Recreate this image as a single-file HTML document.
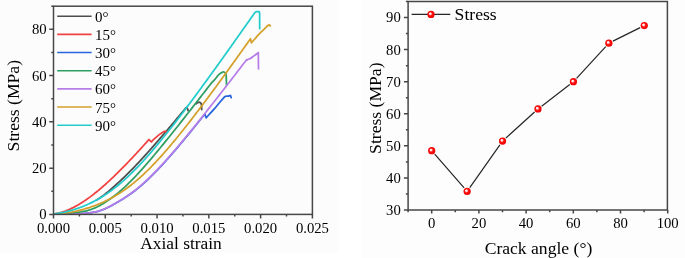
<!DOCTYPE html>
<html><head><meta charset="utf-8"><title>Stress charts</title>
<style>html,body{margin:0;padding:0;background:#fff;}body{width:685px;height:258px;overflow:hidden;}svg{display:block;}</style>
</head><body>
<svg width="685" height="258" viewBox="0 0 685 258" font-family='"Liberation Serif", serif'>
<defs><radialGradient id="ball" cx="0.5" cy="0.5" r="0.5" fx="0.35" fy="0.35"><stop offset="0" stop-color="#ffffff"/><stop offset="0.26" stop-color="#ffdcdc"/><stop offset="0.5" stop-color="#ff1a1a"/><stop offset="0.85" stop-color="#f50000"/><stop offset="1" stop-color="#e60000"/></radialGradient><clipPath id="lclip"><rect x="53.5" y="4.2" width="258.9" height="210.2"/></clipPath></defs>
<rect x="0" y="0" width="685" height="258" fill="#ffffff"/>
<rect x="0" y="0" width="338" height="252.8" fill="#fcfcfc"/>
<rect x="361.3" y="0" width="323.7" height="258" fill="#fdfdfd"/>
<g fill="none" stroke-width="1.75" stroke-linejoin="round" stroke-linecap="round" clip-path="url(#lclip)">
<path d="M96.50,200.09 L97.50,199.48 L98.50,198.84 L99.50,198.18 L100.50,197.51 L101.50,196.81 L102.50,196.09 L103.50,195.35 L104.50,194.59 L105.50,193.81 L106.50,193.01 L107.50,192.19 L108.50,191.35 L109.50,190.50 L110.50,189.64 L111.50,188.76 L112.50,187.87 L113.50,186.97 L114.50,186.07 L115.50,185.16 L116.50,184.25 L117.50,183.34 L118.50,182.43 L119.50,181.53 L120.50,180.61 L121.50,179.68 L122.50,178.74 L123.50,177.79 L124.50,176.83 L125.50,175.87 L126.50,174.89 L127.50,173.90 L128.50,172.91 L129.50,171.91 L130.50,170.89 L131.50,169.88 L132.50,168.85 L133.50,167.82 L134.50,166.78 L135.50,165.73 L136.50,164.68 L137.50,163.62 L138.50,162.55 L139.50,161.48 L140.50,160.40 L141.50,159.32 L142.50,158.23 L143.50,157.14 L144.50,156.04 L145.50,154.94 L146.50,153.83 L147.50,152.72 L148.50,151.60 L149.50,150.48 L150.50,149.36 L151.50,148.23 L152.50,147.10 L153.50,145.97 L154.50,144.83 L155.50,143.69 L156.50,142.54 L157.50,141.40 L158.50,140.25 L159.50,139.09 L160.50,137.94 L161.50,136.78 L162.50,135.62 L163.50,134.45 L164.50,133.29 L165.50,132.12 L166.50,130.95 L167.50,129.77 L168.50,128.60 L169.50,127.42 L170.50,126.24 L171.50,125.06 L172.50,123.88 L173.50,122.69 L174.50,121.51 L175.50,120.32 L176.50,119.13 L177.50,117.93 L178.50,116.74 L179.50,115.55 L180.50,114.35 L181.50,113.15 L182.50,111.95 L183.50,110.75 L184.50,109.55 L185.50,108.35 L185.80,107.98 L186.60,107.50 L187.40,108.50 L188.10,110.60 M195.80,103.90 L197.50,102.80 L199.00,102.20 L200.30,102.50 L201.20,103.60 L201.60,106.00 L201.70,109.60" stroke="#4d4d4d"/>
<path d="M53.50,213.90 L54.50,213.78 L55.50,213.64 L56.50,213.47 L57.50,213.28 L58.50,213.06 L59.50,212.82 L60.50,212.56 L61.50,212.28 L62.50,211.98 L63.50,211.66 L64.50,211.32 L65.50,210.96 L66.50,210.57 L67.50,210.18 L68.50,209.76 L69.50,209.32 L70.50,208.87 L71.50,208.40 L72.50,207.91 L73.50,207.41 L74.50,206.89 L75.50,206.36 L76.50,205.81 L77.50,205.24 L78.50,204.66 L79.50,204.07 L80.50,203.46 L81.50,202.83 L82.50,202.20 L83.50,201.54 L84.50,200.88 L85.50,200.20 L86.50,199.51 L87.50,198.81 L88.50,198.09 L89.50,197.37 L90.50,196.63 L91.50,195.88 L92.50,195.11 L93.50,194.34 L94.50,193.55 L95.50,192.76 L96.50,191.95 L97.50,191.14 L98.50,190.31 L99.50,189.47 L100.50,188.63 L101.50,187.77 L102.50,186.90 L103.50,186.03 L104.50,185.15 L105.50,184.25 L106.50,183.35 L107.50,182.44 L108.50,181.53 L109.50,180.60 L110.50,179.67 L111.50,178.73 L112.50,177.78 L113.50,176.83 L114.50,175.86 L115.50,174.90 L116.50,173.92 L117.50,172.94 L118.50,171.95 L119.50,170.96 L120.50,169.96 L121.50,168.95 L122.50,167.94 L123.50,166.92 L124.50,165.90 L125.50,164.87 L126.50,163.84 L127.50,162.80 L128.50,161.76 L129.50,160.71 L130.50,159.66 L131.50,158.60 L132.50,157.54 L133.50,156.48 L134.50,155.41 L135.50,154.34 L136.50,153.26 L137.50,152.18 L138.50,151.09 L139.50,150.01 L140.50,148.92 L141.50,147.82 L142.50,146.72 L143.50,145.62 L144.50,144.52 L145.50,143.41 L146.50,142.30 L147.50,141.19 L148.50,140.07 L149.00,139.51 L151.40,141.80 M151.40,141.80 C151.83,141.37 153.13,140.02 154.00,139.20 C154.87,138.38 155.68,137.70 156.60,136.90 C157.52,136.10 158.53,135.15 159.50,134.40 C160.47,133.65 161.58,132.90 162.40,132.40 C163.22,131.90 163.83,131.57 164.40,131.40 C164.97,131.23 165.43,131.23 165.80,131.40 C166.17,131.57 166.47,132.23 166.60,132.40" stroke="#f04242"/>
<path d="M53.85,213.90 L54.85,214.06 L55.85,214.19 L56.85,214.31 L57.85,214.42 L58.85,214.51 L59.85,214.58 L60.85,214.64 L61.85,214.68 L62.85,214.72 L63.85,214.74 L64.85,214.74 L65.85,214.74 L66.85,214.72 L67.85,214.70 L68.85,214.66 L69.85,214.62 L70.85,214.57 L71.85,214.51 L72.85,214.44 L73.85,214.37 L74.85,214.29 L75.85,214.21 L76.85,214.12 L77.85,214.03 L78.85,213.94 L79.85,213.85 L80.85,213.75 L81.85,213.66 L82.85,213.56 L83.85,213.46 L84.85,213.37 L85.85,213.26 L86.85,213.16 L87.85,213.05 L88.85,212.94 L89.85,212.82 L90.85,212.69 L91.85,212.54 L92.85,212.39 L93.85,212.22 L94.85,212.03 L95.85,211.82 L96.85,211.59 L97.85,211.34 L98.85,211.06 L99.85,210.76 L100.85,210.44 L101.85,210.09 L102.85,209.71 L103.85,209.31 L104.85,208.89 L105.85,208.44 L106.85,207.98 L107.85,207.50 L108.85,207.00 L109.85,206.48 L110.85,205.96 L111.85,205.42 L112.85,204.88 L113.85,204.32 L114.85,203.76 L115.85,203.19 L116.85,202.61 L117.85,202.03 L118.85,201.44 L119.85,200.85 L120.85,200.24 L121.85,199.63 L122.85,199.01 L123.85,198.39 L124.85,197.75 L125.85,197.10 L126.85,196.45 L127.85,195.78 L128.85,195.09 L129.85,194.40 L130.85,193.69 L131.85,192.97 L132.85,192.24 L133.85,191.49 L134.85,190.73 L135.85,189.95 L136.85,189.16 L137.85,188.36 L138.85,187.54 L139.85,186.70 L140.85,185.86 L141.85,185.00 L142.85,184.12 L143.85,183.23 L144.85,182.33 L145.85,181.42 L146.85,180.49 L147.85,179.55 L148.85,178.60 L149.85,177.64 L150.85,176.67 L151.85,175.68 L152.85,174.69 L153.85,173.68 L154.85,172.67 L155.85,171.64 L156.85,170.60 L157.85,169.56 L158.85,168.50 L159.85,167.44 L160.85,166.37 L161.85,165.29 L162.85,164.20 L163.85,163.11 L164.85,162.00 L165.85,160.89 L166.85,159.78 L167.85,158.65 L168.85,157.52 L169.85,156.39 L170.85,155.24 L171.85,154.09 L172.85,152.94 L173.85,151.78 L174.85,150.62 L175.85,149.45 L176.85,148.27 L177.85,147.09 L178.85,145.91 L179.85,144.72 L180.85,143.53 L181.85,142.33 L182.85,141.13 L183.85,139.93 L184.85,138.72 L185.85,137.51 L186.85,136.29 L187.85,135.08 L188.85,133.86 L189.85,132.63 L190.85,131.40 L191.85,130.17 L192.85,128.94 L193.85,127.70 L194.85,126.47 L195.85,125.23 L196.85,123.98 L197.85,122.74 L198.85,121.49 L199.85,120.24 L200.85,118.99 L201.85,117.73 L202.85,116.47 L203.85,115.22 L204.85,113.96 L205.10,115.10 L206.10,117.80 M206.10,117.80 C206.72,117.13 208.55,115.15 209.80,113.80 C211.05,112.45 212.40,111.05 213.60,109.70 C214.80,108.35 215.87,107.07 217.00,105.70 C218.13,104.33 219.40,102.68 220.40,101.50 C221.40,100.32 222.22,99.42 223.00,98.60 C223.78,97.78 224.42,97.00 225.10,96.60 C225.78,96.20 226.53,96.28 227.10,96.20 C227.67,96.12 227.93,96.22 228.50,96.10 C229.07,95.98 230.17,95.60 230.50,95.50 M230.50,95.50 L231.20,97.60" stroke="#2864dc"/>
<path d="M53.50,213.90 L54.50,213.94 L55.50,213.98 L56.50,214.00 L57.50,214.00 L58.50,214.00 L59.50,213.99 L60.50,213.97 L61.50,213.93 L62.50,213.89 L63.50,213.84 L64.50,213.78 L65.50,213.72 L66.50,213.65 L67.50,213.57 L68.50,213.48 L69.50,213.39 L70.50,213.29 L71.50,213.19 L72.50,213.08 L73.50,212.97 L74.50,212.85 L75.50,212.72 L76.50,212.59 L77.50,212.46 L78.50,212.32 L79.50,212.17 L80.50,212.01 L81.50,211.84 L82.50,211.66 L83.50,211.46 L84.50,211.26 L85.50,211.03 L86.50,210.79 L87.50,210.53 L88.50,210.25 L89.50,209.95 L90.50,209.63 L91.50,209.28 L92.50,208.91 L93.50,208.52 L94.50,208.10 L95.50,207.67 L96.50,207.20 L97.50,206.72 L98.50,206.21 L99.50,205.68 L100.50,205.14 L101.50,204.57 L102.50,203.99 L103.50,203.38 L104.50,202.77 L105.50,202.13 L106.50,201.48 L107.50,200.82 L108.50,200.14 L109.50,199.45 L110.50,198.74 L111.50,198.02 L112.50,197.29 L113.50,196.53 L114.50,195.77 L115.50,194.99 L116.50,194.19 L117.50,193.38 L118.50,192.56 L119.50,191.72 L120.50,190.86 L121.50,189.99 L122.50,189.10 L123.50,188.20 L124.50,187.28 L125.50,186.35 L126.50,185.41 L127.50,184.45 L128.50,183.48 L129.50,182.49 L130.50,181.49 L131.50,180.48 L132.50,179.46 L133.50,178.43 L134.50,177.38 L135.50,176.33 L136.50,175.26 L137.50,174.19 L138.50,173.10 L139.50,172.01 L140.50,170.91 L141.50,169.80 L142.50,168.68 L143.50,167.56 L144.50,166.42 L145.50,165.28 L146.50,164.14 L147.50,162.99 L148.50,161.83 L149.50,160.66 L150.50,159.49 L151.50,158.32 L152.50,157.14 L153.50,155.95 L154.50,154.76 L155.50,153.56 L156.50,152.37 L157.50,151.16 L158.50,149.95 L159.50,148.74 L160.50,147.53 L161.50,146.31 L162.50,145.09 L163.50,143.86 L164.50,142.64 L165.50,141.41 L166.50,140.17 L167.50,138.94 L168.50,137.70 L169.50,136.46 L170.50,135.21 L171.50,133.97 L172.50,132.72 L173.50,131.47 L174.50,130.21 L175.50,128.96 L176.50,127.70 L177.50,126.44 L178.50,125.18 L179.50,123.92 L180.50,122.66 L181.50,121.39 L182.50,120.12 L183.50,118.86 L184.50,117.59 L185.50,116.31 L186.50,115.04 L187.50,113.77 L188.50,112.49 L189.50,111.22 L190.50,109.94 L191.50,108.66 L192.50,107.38 L193.50,106.10 L194.50,104.82 L195.50,103.54 L196.50,102.25 L197.50,100.97 L198.50,99.68 L199.50,98.39 L200.50,97.11 L201.50,95.82 L202.50,94.53 L203.50,93.24 L204.50,91.95 L205.50,90.66 L206.50,89.36 L207.50,88.07 L208.50,86.78 L209.50,85.48 L210.50,84.19 L211.50,82.89 M211.50,82.90 C212.03,82.35 213.78,80.63 214.70,79.60 C215.62,78.57 216.23,77.60 217.00,76.70 C217.77,75.80 218.53,74.88 219.30,74.20 C220.07,73.52 220.82,72.97 221.60,72.60 C222.38,72.23 223.37,71.93 224.00,72.00 C224.63,72.07 225.03,72.45 225.40,73.00 C225.77,73.55 226.07,74.92 226.20,75.30 M226.20,75.30 L226.50,85.00" stroke="#2e9e62"/>
<path d="M53.50,213.90 L54.50,214.06 L55.50,214.19 L56.50,214.31 L57.50,214.42 L58.50,214.51 L59.50,214.58 L60.50,214.64 L61.50,214.68 L62.50,214.72 L63.50,214.74 L64.50,214.74 L65.50,214.74 L66.50,214.72 L67.50,214.70 L68.50,214.66 L69.50,214.62 L70.50,214.57 L71.50,214.51 L72.50,214.44 L73.50,214.37 L74.50,214.29 L75.50,214.21 L76.50,214.12 L77.50,214.03 L78.50,213.94 L79.50,213.85 L80.50,213.75 L81.50,213.66 L82.50,213.56 L83.50,213.46 L84.50,213.37 L85.50,213.26 L86.50,213.16 L87.50,213.05 L88.50,212.94 L89.50,212.82 L90.50,212.69 L91.50,212.54 L92.50,212.39 L93.50,212.22 L94.50,212.03 L95.50,211.82 L96.50,211.59 L97.50,211.34 L98.50,211.06 L99.50,210.76 L100.50,210.44 L101.50,210.09 L102.50,209.71 L103.50,209.31 L104.50,208.89 L105.50,208.44 L106.50,207.98 L107.50,207.50 L108.50,207.00 L109.50,206.48 L110.50,205.96 L111.50,205.42 L112.50,204.88 L113.50,204.32 L114.50,203.76 L115.50,203.19 L116.50,202.61 L117.50,202.03 L118.50,201.44 L119.50,200.85 L120.50,200.24 L121.50,199.63 L122.50,199.01 L123.50,198.39 L124.50,197.75 L125.50,197.10 L126.50,196.45 L127.50,195.78 L128.50,195.09 L129.50,194.40 L130.50,193.69 L131.50,192.97 L132.50,192.24 L133.50,191.49 L134.50,190.73 L135.50,189.95 L136.50,189.16 L137.50,188.36 L138.50,187.54 L139.50,186.70 L140.50,185.86 L141.50,185.00 L142.50,184.12 L143.50,183.23 L144.50,182.33 L145.50,181.42 L146.50,180.49 L147.50,179.55 L148.50,178.60 L149.50,177.64 L150.50,176.67 L151.50,175.68 L152.50,174.69 L153.50,173.68 L154.50,172.67 L155.50,171.64 L156.50,170.60 L157.50,169.56 L158.50,168.50 L159.50,167.44 L160.50,166.37 L161.50,165.29 L162.50,164.20 L163.50,163.11 L164.50,162.00 L165.50,160.89 L166.50,159.78 L167.50,158.65 L168.50,157.52 L169.50,156.39 L170.50,155.24 L171.50,154.09 L172.50,152.94 L173.50,151.78 L174.50,150.62 L175.50,149.45 L176.50,148.27 L177.50,147.09 L178.50,145.91 L179.50,144.72 L180.50,143.53 L181.50,142.33 L182.50,141.13 L183.50,139.93 L184.50,138.72 L185.50,137.51 L186.50,136.29 L187.50,135.08 L188.50,133.86 L189.50,132.63 L190.50,131.40 L191.50,130.17 L192.50,128.94 L193.50,127.70 L194.50,126.47 L195.50,125.23 L196.50,123.98 L197.50,122.74 L198.50,121.49 L199.50,120.24 L200.50,118.99 L201.50,117.73 L202.50,116.47 L203.50,115.22 L204.50,113.96 L205.50,112.69 L206.50,111.43 L207.50,110.16 L208.50,108.90 L209.50,107.63 L210.50,106.36 L211.50,105.08 L212.50,103.81 L213.50,102.54 L214.50,101.26 L215.50,99.98 L216.50,98.70 L217.50,97.42 L218.50,96.14 L219.50,94.86 L220.50,93.57 L221.50,92.29 L222.50,91.00 L223.50,89.71 L224.50,88.42 L225.50,87.13 L226.50,85.84 L227.50,84.55 L228.50,83.26 L229.50,81.97 L230.50,80.67 L231.50,79.38 L232.50,78.08 L233.50,76.78 L234.50,75.49 L235.50,74.19 L236.50,72.89 L237.50,71.59 L238.50,70.29 L239.50,68.98 L240.50,67.68 L241.50,66.38 L242.50,65.07 L243.50,63.77 L244.50,62.46 L245.50,61.16 L246.50,59.85 L246.70,59.59 M246.70,60.10 C246.97,59.97 247.78,59.52 248.30,59.30 C248.82,59.08 249.10,59.18 249.80,58.80 C250.50,58.42 251.55,57.68 252.50,57.00 C253.45,56.32 254.53,55.43 255.50,54.70 C256.47,53.97 257.83,52.95 258.30,52.60 M258.30,52.60 L258.50,68.80" stroke="#b77de8"/>
<path d="M53.50,213.90 L54.50,213.89 L55.50,213.87 L56.50,213.83 L57.50,213.78 L58.50,213.73 L59.50,213.66 L60.50,213.58 L61.50,213.49 L62.50,213.39 L63.50,213.28 L64.50,213.16 L65.50,213.03 L66.50,212.90 L67.50,212.75 L68.50,212.60 L69.50,212.43 L70.50,212.26 L71.50,212.08 L72.50,211.89 L73.50,211.70 L74.50,211.49 L75.50,211.28 L76.50,211.06 L77.50,210.83 L78.50,210.59 L79.50,210.35 L80.50,210.09 L81.50,209.83 L82.50,209.57 L83.50,209.29 L84.50,209.01 L85.50,208.71 L86.50,208.41 L87.50,208.10 L88.50,207.79 L89.50,207.46 L90.50,207.13 L91.50,206.79 L92.50,206.44 L93.50,206.08 L94.50,205.71 L95.50,205.33 L96.50,204.95 L97.50,204.55 L98.50,204.15 L99.50,203.73 L100.50,203.31 L101.50,202.88 L102.50,202.43 L103.50,201.98 L104.50,201.52 L105.50,201.05 L106.50,200.56 L107.50,200.07 L108.50,199.56 L109.50,199.05 L110.50,198.52 L111.50,197.98 L112.50,197.43 L113.50,196.87 L114.50,196.30 L115.50,195.72 L116.50,195.12 L117.50,194.51 L118.50,193.89 L119.50,193.26 L120.50,192.62 L121.50,191.96 L122.50,191.29 L123.50,190.61 L124.50,189.92 L125.50,189.21 L126.50,188.49 L127.50,187.76 L128.50,187.01 L129.50,186.25 L130.50,185.48 L131.50,184.70 L132.50,183.91 L133.50,183.10 L134.50,182.28 L135.50,181.44 L136.50,180.60 L137.50,179.74 L138.50,178.87 L139.50,177.99 L140.50,177.09 L141.50,176.19 L142.50,175.27 L143.50,174.34 L144.50,173.40 L145.50,172.44 L146.50,171.48 L147.50,170.50 L148.50,169.52 L149.50,168.52 L150.50,167.51 L151.50,166.50 L152.50,165.47 L153.50,164.43 L154.50,163.38 L155.50,162.32 L156.50,161.26 L157.50,160.18 L158.50,159.10 L159.50,158.00 L160.50,156.90 L161.50,155.79 L162.50,154.67 L163.50,153.54 L164.50,152.40 L165.50,151.26 L166.50,150.11 L167.50,148.95 L168.50,147.78 L169.50,146.61 L170.50,145.43 L171.50,144.24 L172.50,143.05 L173.50,141.85 L174.50,140.65 L175.50,139.43 L176.50,138.22 L177.50,136.99 L178.50,135.76 L179.50,134.53 L180.50,133.29 L181.50,132.04 L182.50,130.79 L183.50,129.54 L184.50,128.28 L185.50,127.01 L186.50,125.75 L187.50,124.47 L188.50,123.19 L189.50,121.91 L190.50,120.63 L191.50,119.34 L192.50,118.04 L193.50,116.74 L194.50,115.44 L195.50,114.14 L196.50,112.83 L197.50,111.52 L198.50,110.20 L199.50,108.88 L200.50,107.56 L201.50,106.24 L202.50,104.91 L203.50,103.58 L204.50,102.24 L205.50,100.91 L206.50,99.57 L207.50,98.23 L208.50,96.88 L209.50,95.54 L210.50,94.19 L211.50,92.83 L212.50,91.48 L213.50,90.12 L214.50,88.77 L215.50,87.40 L216.50,86.04 L217.50,84.68 L218.50,83.31 L219.50,81.94 L220.50,80.57 L221.50,79.20 L222.50,77.82 L223.50,76.45 L224.50,75.07 L225.50,73.69 L226.50,72.31 L227.50,70.92 L228.50,69.54 L229.50,68.15 L230.50,66.77 L231.50,65.38 L232.50,63.98 L233.50,62.59 L234.50,61.20 L235.50,59.80 L236.50,58.41 L237.50,57.01 L238.50,55.61 L239.50,54.21 L240.50,52.81 L241.50,51.41 L242.50,50.00 L243.50,48.60 L244.50,47.19 L245.50,45.78 L246.50,44.38 L247.50,42.97 L248.50,41.56 L249.50,40.15 L250.50,38.73 L251.40,42.80 M251.40,42.80 C251.97,42.17 253.68,40.27 254.80,39.00 C255.92,37.73 257.07,36.33 258.10,35.20 C259.13,34.07 259.85,33.35 261.00,32.20 C262.15,31.05 263.80,29.45 265.00,28.30 C266.20,27.15 267.48,25.87 268.20,25.30 C268.92,24.73 268.95,24.80 269.30,24.90 C269.65,25.00 270.13,25.73 270.30,25.90" stroke="#d4a02a"/>
<path d="M53.50,213.90 L54.50,213.79 L55.50,213.67 L56.50,213.53 L57.50,213.39 L58.50,213.24 L59.50,213.07 L60.50,212.90 L61.50,212.71 L62.50,212.52 L63.50,212.31 L64.50,212.10 L65.50,211.87 L66.50,211.64 L67.50,211.39 L68.50,211.14 L69.50,210.88 L70.50,210.61 L71.50,210.33 L72.50,210.03 L73.50,209.73 L74.50,209.42 L75.50,209.10 L76.50,208.77 L77.50,208.43 L78.50,208.09 L79.50,207.73 L80.50,207.36 L81.50,206.98 L82.50,206.59 L83.50,206.19 L84.50,205.78 L85.50,205.36 L86.50,204.93 L87.50,204.49 L88.50,204.04 L89.50,203.57 L90.50,203.10 L91.50,202.62 L92.50,202.12 L93.50,201.61 L94.50,201.09 L95.50,200.56 L96.50,200.02 L97.50,199.47 L98.50,198.90 L99.50,198.32 L100.50,197.73 L101.50,197.13 L102.50,196.52 L103.50,195.89 L104.50,195.25 L105.50,194.60 L106.50,193.93 L107.50,193.25 L108.50,192.56 L109.50,191.86 L110.50,191.14 L111.50,190.42 L112.50,189.67 L113.50,188.92 L114.50,188.15 L115.50,187.37 L116.50,186.58 L117.50,185.78 L118.50,184.96 L119.50,184.13 L120.50,183.28 L121.50,182.43 L122.50,181.56 L123.50,180.68 L124.50,179.79 L125.50,178.89 L126.50,177.97 L127.50,177.04 L128.50,176.10 L129.50,175.15 L130.50,174.19 L131.50,173.22 L132.50,172.23 L133.50,171.24 L134.50,170.23 L135.50,169.22 L136.50,168.19 L137.50,167.16 L138.50,166.11 L139.50,165.06 L140.50,163.99 L141.50,162.92 L142.50,161.83 L143.50,160.74 L144.50,159.64 L145.50,158.53 L146.50,157.41 L147.50,156.29 L148.50,155.15 L149.50,154.01 L150.50,152.86 L151.50,151.70 L152.50,150.54 L153.50,149.37 L154.50,148.19 L155.50,147.01 L156.50,145.81 L157.50,144.62 L158.50,143.41 L159.50,142.20 L160.50,140.99 L161.50,139.76 L162.50,138.54 L163.50,137.30 L164.50,136.06 L165.50,134.82 L166.50,133.57 L167.50,132.32 L168.50,131.06 L169.50,129.79 L170.50,128.53 L171.50,127.25 L172.50,125.98 L173.50,124.70 L174.50,123.41 L175.50,122.12 L176.50,120.83 L177.50,119.53 L178.50,118.23 L179.50,116.93 L180.50,115.62 L181.50,114.31 L182.50,112.99 L183.50,111.67 L184.50,110.35 L185.50,109.03 L186.50,107.70 L187.50,106.37 L188.50,105.04 L189.50,103.70 L190.50,102.36 L191.50,101.02 L192.50,99.68 L193.50,98.33 L194.50,96.98 L195.50,95.63 L196.50,94.27 L197.50,92.92 L198.50,91.56 L199.50,90.20 L200.50,88.84 L201.50,87.47 L202.50,86.10 L203.50,84.74 L204.50,83.36 L205.50,81.99 L206.50,80.62 L207.50,79.24 L208.50,77.86 L209.50,76.48 L210.50,75.10 L211.50,73.72 L212.50,72.33 L213.50,70.94 L214.50,69.56 L215.50,68.17 L216.50,66.78 L217.50,65.38 L218.50,63.99 L219.50,62.59 L220.50,61.20 L221.50,59.80 L222.50,58.40 L223.50,57.00 L224.50,55.60 L225.50,54.19 L226.50,52.79 L227.50,51.38 L228.50,49.98 L229.50,48.57 L230.50,47.16 L231.50,45.75 L232.50,44.34 L233.50,42.93 L234.50,41.51 L235.50,40.10 L236.50,38.69 L237.50,37.27 L238.50,35.85 L239.50,34.43 L240.50,33.02 L241.50,31.60 L242.50,30.18 L243.50,28.75 L244.50,27.33 L245.50,25.91 L246.50,24.49 L247.50,23.06 L248.50,21.64 L249.50,20.21 L250.50,18.78 L251.50,17.36 L252.50,15.93 L253.50,14.50 L254.50,13.07 L254.60,12.93 L255.80,11.90 L256.80,11.60 L259.10,11.60 L259.60,13.00 L259.70,28.70" stroke="#22cccc"/>
</g>
<g stroke="#474747" stroke-width="1.5" fill="none">
<rect x="53.50" y="6.20" width="258.90" height="208.20"/>
<path d="M49.30,214.40H53.50 M51.30,191.27H53.50 M49.30,168.13H53.50 M51.30,145.00H53.50 M49.30,121.87H53.50 M51.30,98.73H53.50 M49.30,75.60H53.50 M51.30,52.47H53.50 M49.30,29.33H53.50 M51.30,6.20H53.50 M53.50,214.40V218.40 M79.39,214.40V216.60 M105.28,214.40V218.40 M131.17,214.40V216.60 M157.06,214.40V218.40 M182.95,214.40V216.60 M208.84,214.40V218.40 M234.73,214.40V216.60 M260.62,214.40V218.40 M286.51,214.40V216.60 M312.40,214.40V218.40"/>
</g>
<g font-size="14.7" fill="#000">
<text x="46.6" y="219.30" text-anchor="end">0</text>
<text x="46.6" y="173.03" text-anchor="end">20</text>
<text x="46.6" y="126.77" text-anchor="end">40</text>
<text x="46.6" y="80.50" text-anchor="end">60</text>
<text x="46.6" y="34.23" text-anchor="end">80</text>
<text x="53.50" y="233.2" text-anchor="middle">0.000</text>
<text x="105.28" y="233.2" text-anchor="middle">0.005</text>
<text x="157.06" y="233.2" text-anchor="middle">0.010</text>
<text x="208.84" y="233.2" text-anchor="middle">0.015</text>
<text x="260.62" y="233.2" text-anchor="middle">0.020</text>
<text x="312.40" y="233.2" text-anchor="middle">0.025</text>
</g>
<text x="181.0" y="249.1" font-size="17.4" text-anchor="middle" fill="#000">Axial strain</text>
<text transform="translate(18.5,105.7) rotate(-90)" font-size="17.6" text-anchor="middle" fill="#000">Stress (MPa)</text>
<g stroke-width="1.6" fill="none">
<path d="M57.2,16.20H91.6" stroke="#4d4d4d"/>
<path d="M57.2,34.37H91.6" stroke="#f04242"/>
<path d="M57.2,52.54H91.6" stroke="#2864dc"/>
<path d="M57.2,70.71H91.6" stroke="#2e9e62"/>
<path d="M57.2,88.88H91.6" stroke="#b77de8"/>
<path d="M57.2,107.05H91.6" stroke="#d4a02a"/>
<path d="M57.2,125.22H91.6" stroke="#22cccc"/>
</g>
<g font-size="15" fill="#000">
<text x="95.1" y="21.70">0°</text>
<text x="95.1" y="39.87">15°</text>
<text x="95.1" y="58.04">30°</text>
<text x="95.1" y="76.21">45°</text>
<text x="95.1" y="94.38">60°</text>
<text x="95.1" y="112.55">75°</text>
<text x="95.1" y="130.72">90°</text>
</g>
<g stroke="#474747" stroke-width="1.5" fill="none">
<rect x="408.10" y="1.50" width="259.30" height="208.50"/>
<path d="M403.90,210.00H408.10 M405.90,193.96H408.10 M403.90,177.92H408.10 M405.90,161.88H408.10 M403.90,145.85H408.10 M405.90,129.81H408.10 M403.90,113.77H408.10 M405.90,97.73H408.10 M403.90,81.69H408.10 M405.90,65.65H408.10 M403.90,49.62H408.10 M405.90,33.58H408.10 M403.90,17.54H408.10 M405.90,1.50H408.10 M408.10,210.00V212.20 M431.70,210.00V213.60 M455.30,210.00V212.20 M478.90,210.00V213.60 M502.50,210.00V212.20 M526.10,210.00V213.60 M549.70,210.00V212.20 M573.30,210.00V213.60 M596.90,210.00V212.20 M620.50,210.00V213.60 M644.10,210.00V212.20 M667.70,210.00V213.60"/>
</g>
<g font-size="14.7" fill="#000">
<text x="400.8" y="214.90" text-anchor="end">30</text>
<text x="400.8" y="182.82" text-anchor="end">40</text>
<text x="400.8" y="150.75" text-anchor="end">50</text>
<text x="400.8" y="118.67" text-anchor="end">60</text>
<text x="400.8" y="86.59" text-anchor="end">70</text>
<text x="400.8" y="54.52" text-anchor="end">80</text>
<text x="400.8" y="22.44" text-anchor="end">90</text>
<text x="431.70" y="228.0" text-anchor="middle">0</text>
<text x="478.90" y="228.0" text-anchor="middle">20</text>
<text x="526.10" y="228.0" text-anchor="middle">40</text>
<text x="573.30" y="228.0" text-anchor="middle">60</text>
<text x="620.50" y="228.0" text-anchor="middle">80</text>
<text x="667.70" y="228.0" text-anchor="middle">100</text>
</g>
<text x="538.5" y="254.0" font-size="17.6" text-anchor="middle" fill="#000">Crack angle (°)</text>
<text transform="translate(380.6,108.2) rotate(-90)" font-size="17.6" text-anchor="middle" fill="#000">Stress (MPa)</text>
<path d="M434.72,154.13L464.11,187.92 M469.78,187.63L499.91,144.80 M505.97,137.95L534.58,112.05 M541.64,106.15L569.77,84.50 M576.54,78.31L605.73,46.58 M612.97,41.15L640.16,27.61" fill="none" stroke="#262626" stroke-width="1.2"/>
<circle cx="431.70" cy="150.66" r="3.6" fill="url(#ball)"/>
<circle cx="467.13" cy="191.40" r="3.6" fill="url(#ball)"/>
<circle cx="502.56" cy="141.03" r="3.6" fill="url(#ball)"/>
<circle cx="537.99" cy="108.96" r="3.6" fill="url(#ball)"/>
<circle cx="573.42" cy="81.69" r="3.6" fill="url(#ball)"/>
<circle cx="608.85" cy="43.20" r="3.6" fill="url(#ball)"/>
<circle cx="644.28" cy="25.56" r="3.6" fill="url(#ball)"/>
<path d="M411.6,14.4H450.3" stroke="#262626" stroke-width="1.2"/>
<circle cx="431" cy="14.4" r="3.6" fill="url(#ball)"/>
<text x="454.6" y="20.1" font-size="17.6" fill="#000">Stress</text>
</svg>
</body></html>
